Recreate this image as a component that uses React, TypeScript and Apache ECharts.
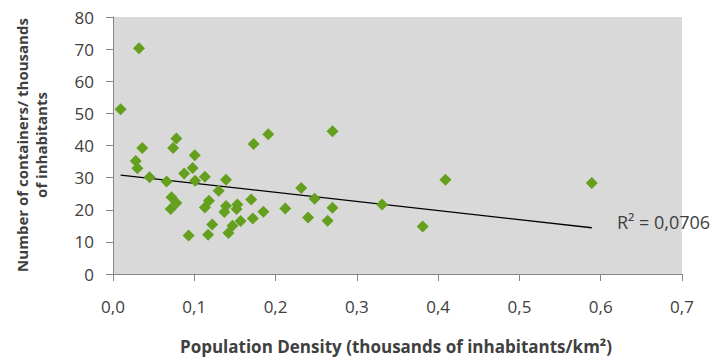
import React, { useEffect, useRef } from "react";
import * as echarts from "echarts";

const densities = [
  0.0094, 0.032, 0.078, 0.191, 0.173, 0.036, 0.074, 0.1006, 0.028, 0.03,
  0.098, 0.0875, 0.045, 0.066, 0.101, 0.113, 0.139, 0.13, 0.072, 0.078,
  0.071, 0.118, 0.113, 0.139, 0.137, 0.153, 0.152, 0.17, 0.185, 0.172,
  0.157, 0.147, 0.142, 0.122, 0.117, 0.093, 0.212, 0.27, 0.2315, 0.248,
  0.27, 0.24, 0.264, 0.331, 0.409, 0.381, 0.589,
];
const containers = [
  51.3, 70.3, 42.2, 43.5, 40.5, 39.2, 39.2, 37.0, 35.2, 32.9,
  33.0, 31.3, 30.1, 28.8, 29.0, 30.3, 29.3, 25.9, 23.9, 22.1,
  20.2, 22.8, 20.7, 21.2, 19.3, 21.6, 20.2, 23.2, 19.4, 17.3,
  16.5, 15.0, 12.8, 15.4, 12.2, 12.0, 20.4, 44.4, 26.8, 23.4,
  20.6, 17.6, 16.6, 21.6, 29.3, 14.8, 28.3,
];
const trendX = [0.0094, 0.589];
const trendY = [30.8, 14.4];
const r2Label = "R² = 0,0706";
const xTitle = "Population Density (thousands of inhabitants/km²)";
const yTitle = "Number of containers/ thousands\nof inhabitants";

export default function App() {
  const ref = useRef<HTMLDivElement>(null);
  useEffect(() => {
    if (!ref.current) return;
    const chart = echarts.init(ref.current, undefined, { renderer: "svg" });
    const font = "'Open Sans', sans-serif";
    chart.setOption({
      animation: false,
      backgroundColor: "#ffffff",
      grid: {
        left: 113,
        top: 17,
        width: 569,
        height: 257,
        show: true,
        backgroundColor: "#d9d9d9",
        borderWidth: 0,
      },
      xAxis: {
        type: "value",
        min: 0,
        max: 0.7,
        interval: 0.1,
        axisLine: { show: true, lineStyle: { color: "#868686", width: 1 } },
        axisTick: { show: true, length: 7, lineStyle: { color: "#868686" } },
        splitLine: { show: false },
        axisLabel: {
          margin: 24,
          color: "#404040",
          fontFamily: font,
          fontSize: 17,
          formatter: (v: number) => v.toFixed(1).replace(".", ","),
        },
      },
      yAxis: {
        type: "value",
        min: 0,
        max: 80,
        interval: 10,
        axisLine: { show: true, lineStyle: { color: "#868686", width: 1 } },
        axisTick: { show: true, length: 7, lineStyle: { color: "#868686" } },
        splitLine: { show: false },
        axisLabel: {
          margin: 19,
          color: "#404040",
          fontFamily: font,
          fontSize: 17,
        },
      },
      series: [
        {
          type: "scatter",
          symbol: "diamond",
          symbolSize: 12,
          itemStyle: { color: "#64a01e", opacity: 1 },
          data: densities.map((d, i) => [d, containers[i]]),
          z: 3,
        },
        {
          type: "line",
          showSymbol: false,
          symbol: "none",
          lineStyle: { color: "#000000", width: 1.3 },
          data: trendX.map((d, i) => [d, trendY[i]]),
          z: 2,
        },
      ],
      graphic: [
        {
          type: "text",
          x: 617,
          y: 222,
          style: {
            text: r2Label,
            fill: "#404040",
            font: `18px ${font}`,
            textVerticalAlign: "middle",
          },
        },
        {
          type: "text",
          x: 396,
          y: 346,
          style: {
            text: xTitle,
            fill: "#404040",
            font: `bold 17px ${font}`,
            textAlign: "center",
            textVerticalAlign: "middle",
          },
        },
        {
          type: "text",
          x: 31,
          y: 145,
          rotation: Math.PI / 2,
          style: {
            text: yTitle,
            fill: "#404040",
            font: `bold 15px ${font}`,
            textAlign: "center",
            textVerticalAlign: "middle",
            lineHeight: 19,
          },
        },
      ],
    });
    return () => chart.dispose();
  }, []);
  return (
    <div
      ref={ref}
      style={{ position: "absolute", left: 0, top: 0, width: 713, height: 360 }}
    />
  );
}
